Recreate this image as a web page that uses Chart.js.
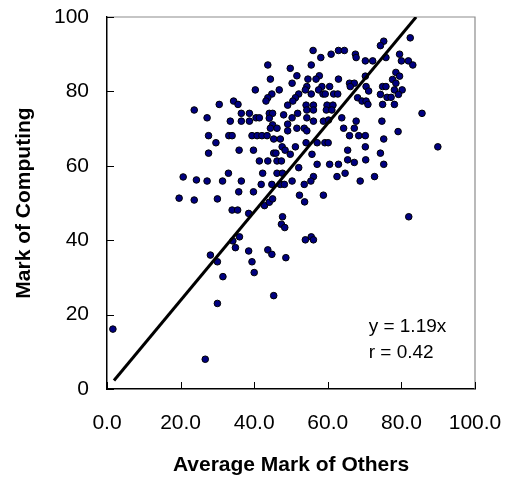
<!DOCTYPE html>
<html lang="en">
<head>
<meta charset="UTF-8">
<title>Mark of Computing vs Average Mark of Others</title>
<style>
    html, body {
        margin: 0;
        padding: 0;
        background: #fff;
        overflow: hidden;
    }

    #wrap {
        width: 510px;
        height: 479px;
    }

    canvas {
        display: block;
    }
</style>
<script src="https://cdn.jsdelivr.net/npm/chart.js"></script>
</head>
<body>
<div id="wrap"><canvas id="myChart" width="510" height="479"></canvas></div>
<script>
    // each student: average mark of the other subjects (x) and computing mark (y)
    var avgOthers = [
        23.7, 20.7, 24.3, 19.6, 23.7,
        43.7, 44.4, 40.3, 46.8, 44.8, 43.7, 43.2, 34.4, 35.6, 30.5,
        56.0, 62.9, 64.5, 58.1, 60.9, 67.5, 67.7, 55.5, 49.8, 51.6, 57.7, 56.8,
        54.6, 62.9, 50.3, 65.9, 67.2, 54.3, 58.4, 60.5, 66.1, 53.9, 57.5, 52.1,
        55.5, 58.7, 59.3, 61.6, 62.7, 51.2, 50.5, 49.1, 68.1, 69.3,
        82.4, 75.2, 74.3, 70.2, 72.2, 75.8, 79.5, 80.0, 81.9, 83.1, 70.2, 78.5,
        79.5, 77.6, 78.5, 70.4, 74.9, 75.8, 78.1, 80.2, 71.1, 74.3, 79.2, 76.1,
        77.2, 70.4, 74.9, 78.1, 70.9,
        36.5, 38.7, 40.5, 41.4, 44.1, 45.0, 27.2, 33.5, 36.5, 38.7, 44.1, 45.0,
        46.2, 44.4, 27.6, 33.1, 34.0, 39.4, 40.8, 42.1, 43.5, 45.3, 29.6, 35.9,
        39.8, 47.6, 48.4, 27.6, 45.3, 45.9, 41.4, 43.7, 46.2, 47.4, 33.0, 42.3,
        46.2, 47.7, 27.2, 31.4, 36.5, 41.9, 44.8, 35.8, 39.8,
        54.1, 56.1, 59.8, 61.4, 54.3, 56.1, 59.6, 61.1, 51.8, 48.0, 50.3, 54.3,
        56.1, 58.8, 60.2, 63.8, 67.7, 49.1, 51.6, 53.6, 54.3, 49.1, 64.3, 67.2,
        65.9, 68.4, 70.2, 47.1, 54.1, 57.1, 59.2, 60.1, 70.2, 51.2, 49.8, 65.4,
        55.7, 65.4, 67.2, 57.1, 60.5, 62.9, 70.3, 52.1, 64.7, 62.5, 56.1, 55.4,
        50.3, 47.1, 48.2, 53.6, 68.8, 52.3, 58.8,
        85.6, 74.7, 79.1, 75.2, 89.9, 74.3, 75.2, 72.7,
        30.0, 34.0, 35.5, 38.5, 36.0, 34.2, 34.9, 38.5, 39.4, 40.0, 28.1, 30.0,
        31.5, 30.0, 1.6, 26.7,
        42.8, 44.1, 45.0, 53.7, 47.7, 47.4, 48.3, 53.9, 55.5, 56.1, 43.7, 44.8,
        48.6, 45.3, 82.0
    ];
    var computing = [
        75.0, 57.0, 56.2, 51.3, 50.8,
        87.1, 83.3, 80.4, 80.4, 79.3, 78.3, 77.4, 77.4, 76.5, 76.5,
        91.0, 91.0, 91.0, 89.1, 90.0, 90.0, 89.1, 87.1, 86.2, 84.2, 84.2, 83.3,
        83.3, 83.3, 82.2, 82.2, 82.2, 81.3, 81.3, 81.3, 81.3, 80.4, 80.4, 79.3,
        79.3, 79.3, 79.3, 79.3, 79.3, 78.3, 77.4, 76.3, 78.3, 77.4,
        94.4, 93.5, 92.3, 88.2, 88.2, 89.1, 90.0, 88.2, 88.2, 87.1, 84.1, 85.1,
        84.1, 83.2, 82.2, 81.3, 81.3, 81.3, 80.4, 80.4, 80.1, 79.2, 79.2, 78.4,
        78.4, 77.4, 76.5, 76.5, 76.5,
        74.1, 74.1, 72.9, 72.9, 74.1, 74.1, 72.9, 72.0, 72.0, 72.0, 72.8, 71.0,
        70.1, 70.1, 68.1, 68.1, 68.1, 68.1, 68.1, 68.1, 68.1, 67.2, 66.2, 64.2,
        64.2, 65.1, 64.2, 63.4, 63.4, 63.4, 61.3, 61.3, 61.3, 61.3, 58.0, 58.0,
        58.0, 58.0, 55.9, 55.9, 55.9, 55.0, 55.0, 53.0, 53.0,
        76.3, 76.3, 76.3, 76.3, 75.0, 75.0, 75.0, 75.0, 74.1, 73.7, 72.9, 72.9,
        72.0, 72.0, 72.3, 72.9, 72.0, 71.2, 70.1, 70.1, 69.4, 69.4, 70.1, 70.1,
        68.1, 68.1, 68.1, 67.2, 66.2, 66.2, 66.2, 66.2, 65.1, 65.1, 63.1, 64.2,
        63.1, 61.6, 60.9, 60.4, 60.4, 60.4, 61.6, 59.5, 58.0, 57.1, 57.1, 55.9,
        55.9, 55.0, 55.0, 55.0, 55.9, 52.1, 52.1,
        74.1, 72.0, 69.2, 67.2, 65.1, 63.4, 60.4, 57.1,
        51.1, 48.1, 48.1, 47.2, 40.9, 39.8, 38.0, 37.1, 34.2, 31.3, 36.0, 34.2,
        30.2, 23.0, 16.1, 8.0,
        49.3, 50.2, 51.1, 50.3, 46.3, 44.3, 43.4, 40.1, 40.9, 40.1, 37.4, 36.2,
        35.3, 25.1, 46.3
    ];

    // trend line y = 1.19x, end points as drawn
    var trendX = [1.9, 84.0];
    var trendY = [2.3, 100.0];

    var xTickValues = [0, 20, 40, 60, 80, 100];
    var xTickLabels = ['0.0', '20.0', '40.0', '60.0', '80.0', '100.0'];
    var yTickValues = [0, 20, 40, 60, 80, 100];
    var yTickLabels = ['0', '20', '40', '60', '80', '100'];

    var noteLines = ['y = 1.19x', 'r = 0.42'];

    var points = avgOthers.map(function (x, i) {
        return { x: x, y: computing[i] };
    });
    var trend = trendX.map(function (x, i) {
        return { x: x, y: trendY[i] };
    });

    Chart.defaults.font.family = "'Liberation Sans', Arial, sans-serif";
    Chart.defaults.color = '#000';

    // gray top/right frame, inward tick marks and the equation text
    var framePlugin = {
        id: 'frame',
        beforeDatasetsDraw: function (chart) {
            var a = chart.chartArea;
            var ctx = chart.ctx;
            ctx.save();
            ctx.strokeStyle = '#8c8c8c';
            ctx.lineWidth = 1.2;
            ctx.beginPath();
            ctx.moveTo(a.left, a.top);
            ctx.lineTo(a.right, a.top);
            ctx.lineTo(a.right, a.bottom);
            ctx.stroke();

            ctx.strokeStyle = '#000';
            ctx.lineWidth = 1;
            ctx.beginPath();
            xTickValues.forEach(function (v) {
                var px = Math.round(chart.scales.x.getPixelForValue(v)) + 0.5;
                ctx.moveTo(px, a.bottom);
                ctx.lineTo(px, a.bottom - 7);
            });
            yTickValues.forEach(function (v) {
                var py = Math.round(chart.scales.y.getPixelForValue(v)) + 0.5;
                ctx.moveTo(a.left, py);
                ctx.lineTo(a.left + 7, py);
            });
            ctx.stroke();
            ctx.restore();
        },
        afterDraw: function (chart) {
            var ctx = chart.ctx;
            ctx.save();
            ctx.font = "19px 'Liberation Sans', Arial, sans-serif";
            ctx.fillStyle = '#000';
            ctx.textAlign = 'left';
            ctx.textBaseline = 'middle';
            var tx = chart.scales.x.getPixelForValue(71.1);
            ctx.fillText(noteLines[0], tx, chart.scales.y.getPixelForValue(16.7));
            ctx.fillText(noteLines[1], tx, chart.scales.y.getPixelForValue(9.7));
            ctx.restore();
        }
    };

    var ctx = document.getElementById('myChart').getContext('2d');
    var myChart = new Chart(ctx, {
        type: 'scatter',
        data: {
            datasets: [
                {
                    type: 'line',
                    label: 'trend',
                    data: trend,
                    borderColor: '#000',
                    borderWidth: 3,
                    pointRadius: 0,
                    fill: false,
                    order: 0
                },
                {
                    label: 'students',
                    data: points,
                    backgroundColor: '#000080',
                    borderColor: '#000',
                    borderWidth: 1,
                    pointRadius: 3.3,
                    order: 1
                }
            ]
        },
        options: {
            responsive: false,
            animation: false,
            layout: {
                padding: { top: 17, right: 35, left: 0, bottom: 0 }
            },
            plugins: {
                legend: { display: false },
                tooltip: { enabled: false }
            },
            scales: {
                x: {
                    type: 'linear',
                    min: 0,
                    max: 100,
                    afterFit: function (s) { s.height = 90; },
                    afterBuildTicks: function (s) {
                        s.ticks = xTickValues.map(function (v) { return { value: v }; });
                    },
                    ticks: {
                        padding: 0,
                        maxRotation: 0,
                        font: { size: 21 },
                        callback: function (v, i) { return xTickLabels[i]; }
                    },
                    // invisible outer ticks only push the labels away from the axis
                    grid: { drawOnChartArea: false, drawTicks: true, tickLength: 22, tickColor: 'rgba(0,0,0,0)' },
                    border: { color: '#000', width: 1.5 },
                    title: {
                        display: true,
                        text: 'Average Mark of Others',
                        font: { size: 21, weight: 'bold' },
                        padding: { top: 0, bottom: 1 }
                    }
                },
                y: {
                    type: 'linear',
                    min: 0,
                    max: 100,
                    afterFit: function (s) { s.width = 107; },
                    afterBuildTicks: function (s) {
                        s.ticks = yTickValues.map(function (v) { return { value: v }; });
                    },
                    ticks: {
                        padding: 0,
                        font: { size: 21 },
                        callback: function (v, i) { return yTickLabels[i]; }
                    },
                    grid: { drawOnChartArea: false, drawTicks: true, tickLength: 18, tickColor: 'rgba(0,0,0,0)' },
                    border: { color: '#000', width: 1.5 },
                    title: {
                        display: true,
                        text: 'Mark of Computing',
                        font: { size: 21, weight: 'bold' },
                        padding: { top: 12, bottom: 0 }
                    }
                }
            }
        },
        plugins: [framePlugin]
    });
</script>
</body>
</html>
